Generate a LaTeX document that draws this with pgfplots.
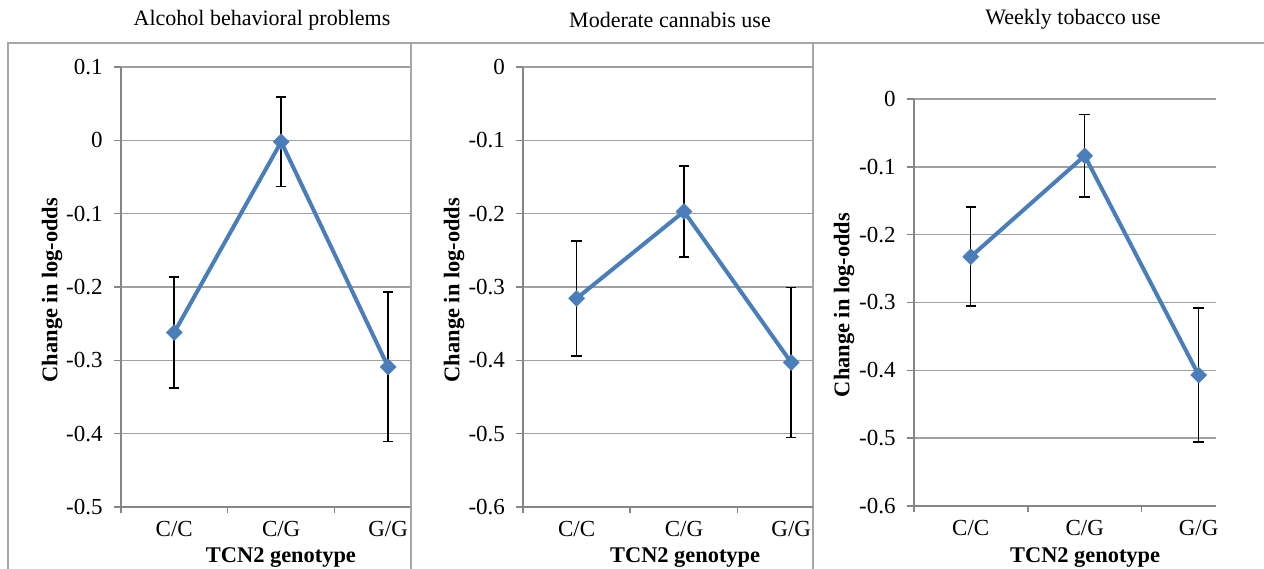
\documentclass[border=0pt]{standalone}
\usepackage{fontspec}
\setmainfont{Liberation Serif}
\usepackage{pgfplots}
\pgfplotsset{compat=1.18}
\definecolor{lineblue}{HTML}{4A7EBB}
\definecolor{gridgray}{HTML}{A0A0A0}
\definecolor{axisgray}{HTML}{868686}
\definecolor{framegray}{HTML}{A6A6A6}

\pgfplotsset{
  panel/.style={
    scale only axis,
    anchor=south west,
    axis x line=bottom, axis y line=left,
    axis line style={-, draw=axisgray, line width=0.8pt},
    xtick={0,1,2}, xticklabels={C/C,C/G,G/G},
    minor xtick={-0.5,0.5,1.5},
    major x tick style={draw=none},
    minor x tick style={draw=axisgray, line width=0.8pt},
    y tick style={draw=axisgray, line width=0.8pt},
    tick align=outside,
    major tick length=3.5pt, minor tick length=3pt,
    ymajorgrids,
    major grid style={draw=gridgray, line width=0.8pt},
    tick label style={font=\fontsize{11.5}{13}\selectfont, text=black},
    yticklabel style={xshift=-2pt},
    label style={font=\bfseries\fontsize{11.2}{13}\selectfont},
    xlabel={TCN2 genotype},
    ylabel={Change in log-odds},
    clip=false,
  },
  ebars/.style={
    forget plot, draw=none, mark=none,
    error bars/.cd, y dir=both, y explicit,
    error mark=|,
    error bar style={draw=black, line width=0.75pt},
    error mark options={draw=black, line width=0.75pt, mark size=2.6pt},
  },
  mainline/.style={
    lineblue, line width=2pt, mark=square*, mark size=2.8pt,
    mark options={rotate=45, fill=lineblue, draw=lineblue, line width=0.3pt},
  },
}

\begin{document}
\begin{tikzpicture}
\path[use as bounding box] (0pt,0pt) rectangle (632pt,-284pt);

% panel frames
\draw[framegray, line width=0.75pt] (4pt,-286pt) -- (4pt,-21.5pt) -- (633pt,-21.5pt);
\draw[framegray, line width=0.75pt] (205.5pt,-286pt) -- (205.5pt,-21.5pt);
\draw[framegray, line width=0.75pt] (406.5pt,-286pt) -- (406.5pt,-21.5pt);

% titles
\node[font=\fontsize{11}{13}\selectfont] at (131pt,-10pt) {Alcohol behavioral problems};
\node[font=\fontsize{11}{13}\selectfont] at (335pt,-10pt) {Moderate cannabis use};
\node[font=\fontsize{11}{13}\selectfont] at (536.5pt,-9.5pt) {Weekly tobacco use};

% Panel 1
\begin{axis}[panel, at={(60.35pt,-253.5pt)}, width=144.65pt, height=220pt,
  xmin=-0.5, xmax=2.204, ymin=-0.5, ymax=0.1,
  ytick={-0.5,-0.4,-0.3,-0.2,-0.1,0,0.1},
  yticklabels={-0.5,-0.4,-0.3,-0.2,-0.1,0,0.1},
  xlabel style={at={(axis description cs:0.554,-0.116)}, anchor=center},
  ylabel style={at={(axis description cs:-0.2375,0.493)}, anchor=center},
]
\addplot[ebars] coordinates {(0,-0.262) +- (0,0.0755) (1,-0.002) +- (0,0.061) (2,-0.309) +- (0,0.102)};
\addplot[mainline] coordinates {(0,-0.262) (1,-0.002) (2,-0.309)};
\end{axis}

% Panel 2
\begin{axis}[panel, at={(261.5pt,-253.5pt)}, width=145pt, height=220pt,
  xmin=-0.5, xmax=2.203, ymin=-0.6, ymax=0,
  ytick={-0.6,-0.5,-0.4,-0.3,-0.2,-0.1,0},
  yticklabels={-0.6,-0.5,-0.4,-0.3,-0.2,-0.1,0},
  xlabel style={at={(axis description cs:0.559,-0.116)}, anchor=center},
  ylabel style={at={(axis description cs:-0.238,0.493)}, anchor=center},
]
\addplot[ebars] coordinates {(0,-0.3155) +- (0,0.0785) (1,-0.197) +- (0,0.062) (2,-0.403) +- (0,0.102)};
\addplot[mainline] coordinates {(0,-0.3155) (1,-0.197) (2,-0.403)};
\end{axis}

% Panel 3
\begin{axis}[panel, at={(456.85pt,-253pt)}, width=151.15pt, height=203.5pt,
  xmin=-0.5, xmax=2.152, ymin=-0.6, ymax=0,
  ytick={-0.6,-0.5,-0.4,-0.3,-0.2,-0.1,0},
  yticklabels={-0.6,-0.5,-0.4,-0.3,-0.2,-0.1,0},
  xlabel style={at={(axis description cs:0.567,-0.1275)}, anchor=center},
  ylabel style={at={(axis description cs:-0.2306,0.494)}, anchor=center},
]
\addplot[ebars] coordinates {(0,-0.2325) +- (0,0.073) (1,-0.0837) +- (0,0.061) (2,-0.407) +- (0,0.099)};
\addplot[mainline] coordinates {(0,-0.2325) (1,-0.0837) (2,-0.407)};
\end{axis}
\end{tikzpicture}
\end{document}
